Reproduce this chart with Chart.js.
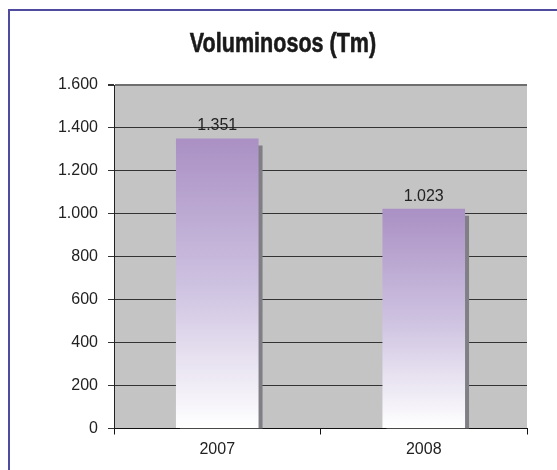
<!DOCTYPE html>
<html>
<head>
<meta charset="utf-8">
<script src="https://cdn.jsdelivr.net/npm/chart.js@4"></script>
<style>
  html, body { margin: 0; padding: 0; background: #fff; overflow: hidden; }
  #wrap { position: relative; width: 557px; height: 470px; }
  #frame {
    position: absolute; left: 8px; top: 9px; width: 700px; height: 700px;
    border-left: 2px solid #4f4ca0; border-top: 2px solid #4f4ca0;
  }
  #c { position: absolute; left: 0; top: 0; }
</style>
</head>
<body>
<div id="wrap">
  <div id="frame"></div>
  <canvas id="c" width="557" height="470"></canvas>
</div>
<script>
const chartTitle = 'Voluminosos (Tm)';
const years = ['2007', '2008'];
const volumes = [1351, 1023];
const yTicks = [0, 200, 400, 600, 800, 1000, 1200, 1400, 1600];

// 1600 -> "1.600"
function fmt(v) {
    return String(v).replace(/\B(?=(\d{3})+(?!\d))/g, '.');
}

const plotBg = {
    id: 'plotBg',
    beforeDraw(chart) {
        const { ctx, chartArea: a } = chart;
        ctx.save();
        ctx.fillStyle = '#c4c4c4';
        ctx.fillRect(a.left, a.top, a.right - a.left, a.bottom - a.top);
        ctx.restore();
    }
};

// condensed heavy title (no narrow font installed, so squeeze it)
const narrowTitle = {
    id: 'narrowTitle',
    afterDraw(chart) {
        const ctx = chart.ctx;
        ctx.save();
        ctx.translate(283, 52);
        ctx.scale(0.77, 1);
        ctx.font = 'bold 28px "Liberation Sans", Arial, sans-serif';
        ctx.fillStyle = '#1a1a1a';
        ctx.strokeStyle = '#1a1a1a';
        ctx.lineWidth = 0.6;
        ctx.lineJoin = 'round';
        ctx.textAlign = 'center';
        ctx.textBaseline = 'alphabetic';
        ctx.fillText(chartTitle, 0, 0);
        ctx.strokeText(chartTitle, 0, 0);
        ctx.restore();
    }
};

// solid grey drop shadow behind the bars
const barShadow = {
    id: 'barShadow',
    beforeDatasetsDraw(chart) {
        const ctx = chart.ctx;
        ctx.save();
        ctx.shadowColor = '#7f7f85';
        ctx.shadowOffsetX = 4;
        ctx.shadowOffsetY = 7;
        ctx.shadowBlur = 0;
    },
    afterDatasetsDraw(chart) {
        chart.ctx.restore();
    }
};

const valueLabels = {
    id: 'valueLabels',
    afterDatasetsDraw(chart) {
        const ctx = chart.ctx;
        const meta = chart.getDatasetMeta(0);
        ctx.save();
        ctx.font = '16px "Liberation Sans", Arial, sans-serif';
        ctx.fillStyle = '#222';
        ctx.textAlign = 'center';
        ctx.textBaseline = 'alphabetic';
        meta.data.forEach((bar, i) => {
            ctx.fillText(fmt(volumes[i]), bar.x, bar.y - 8);
        });
        ctx.restore();
    }
};

new Chart(document.getElementById('c'), {
    type: 'bar',
    data: {
        labels: years,
        datasets: [{
            data: volumes,
            borderWidth: 0,
            categoryPercentage: 1,
            barPercentage: 0.4,
            backgroundColor: (c) => {
                const chart = c.chart;
                const y = chart.scales.y;
                if (!chart.chartArea || !y || c.raw === undefined) return '#b8a5d2';
                const top = y.getPixelForValue(c.raw);
                const bottom = y.getPixelForValue(0);
                const g = chart.ctx.createLinearGradient(0, top, 0, bottom);
                g.addColorStop(0, '#aa90c4');
                g.addColorStop(0.5, '#cdc1e0');
                g.addColorStop(1, '#ffffff');
                return g;
            }
        }]
    },
    options: {
        responsive: false,
        animation: false,
        layout: { padding: { left: 0, right: 30, top: 85, bottom: 0 } },
        plugins: {
            legend: { display: false },
            tooltip: { enabled: false },
            title: { display: false }
        },
        scales: {
            x: {
                afterFit: (s) => { s.height = 41.5; },
                grid: {
                    offset: true,
                    drawOnChartArea: false,
                    drawTicks: true,
                    tickLength: 6,
                    color: '#111'
                },
                border: { display: true, color: '#111', width: 1 },
                ticks: {
                    color: '#222',
                    padding: 5,
                    font: { family: '"Liberation Sans", Arial, sans-serif', size: 16 }
                }
            },
            y: {
                min: 0,
                max: 1600,
                afterFit: (s) => { s.width = 114; },
                afterBuildTicks: (s) => { s.ticks = yTicks.map(v => ({ value: v })); },
                grid: {
                    drawTicks: true,
                    tickLength: 6,
                    color: (c) => c.tick && c.tick.value === 1600 ? '#6f6f6f' : '#333',
                    lineWidth: (c) => c.tick && c.tick.value === 1600 ? 2 : 1,
                    tickColor: '#333'
                },
                border: { display: true, color: '#222', width: 1 },
                ticks: {
                    color: '#222',
                    padding: 10,
                    font: { family: '"Liberation Sans", Arial, sans-serif', size: 16 },
                    callback: (v) => fmt(v)
                }
            }
        }
    },
    plugins: [plotBg, barShadow, valueLabels, narrowTitle]
});
</script>
</body>
</html>
